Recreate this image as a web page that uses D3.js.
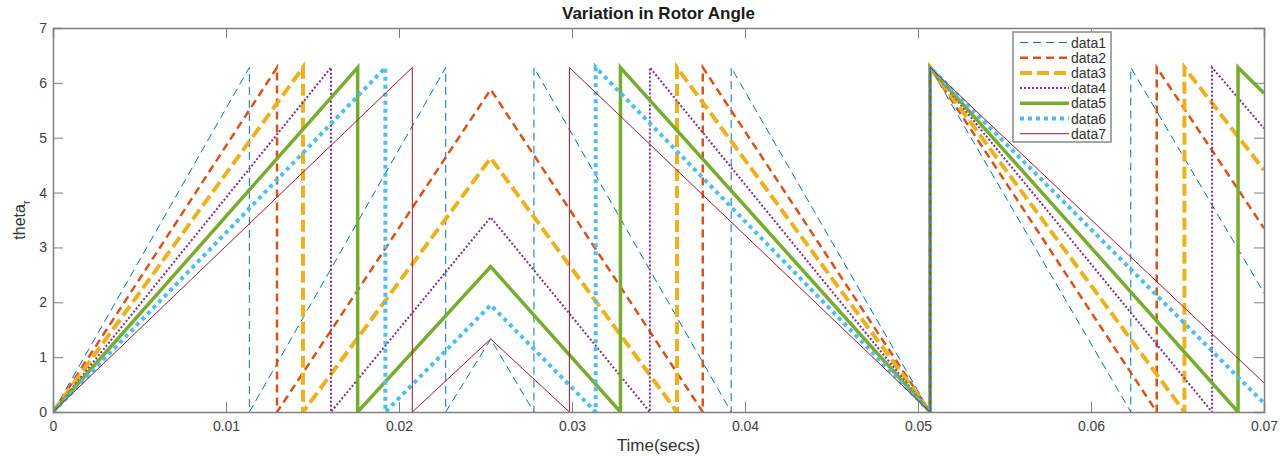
<!DOCTYPE html>
<meta charset="utf-8">
<html>
<head>
<style>
  body { margin: 0; background: #fff; }
  text { font-family: "Liberation Sans", Arial, sans-serif; }
  .tick-label { fill: #404040; font-size: 14px; }
</style>
<script src="https://d3js.org/d3.v7.min.js"></script>
</head>
<body>
<div id="chart"></div>
<script>
// vertices: [time, angle]; jumps are two points at the same time
var data1T = [0, 0.01135, 0.01135, 0.0227, 0.0227, 0.0253, 0.0278, 0.0278, 0.0392, 0.0392, 0.0507, 0.0507, 0.0623, 0.0623, 0.07];
var data1V = [0, 6.28, 0, 6.28, 0, 1.33, 0, 6.28, 0, 6.28, 0, 6.28, 0, 6.28, 2.17];
var data2T = [0, 0.01295, 0.01295, 0.0253, 0.03756, 0.03756, 0.0507, 0.0507, 0.0638, 0.0638, 0.07];
var data2V = [0, 6.28, 0, 5.88, 0, 6.28, 0, 6.28, 0, 6.28, 3.35];
var data3T = [0, 0.01445, 0.01445, 0.0253, 0.03607, 0.03607, 0.0507, 0.0507, 0.0654, 0.0654, 0.07];
var data3V = [0, 6.28, 0, 4.63, 0, 6.28, 0, 6.28, 0, 6.28, 4.41];
var data4T = [0, 0.01607, 0.01607, 0.0253, 0.0345, 0.0345, 0.0507, 0.0507, 0.0670, 0.0670, 0.07];
var data4V = [0, 6.28, 0, 3.55, 0, 6.28, 0, 6.28, 0, 6.28, 5.17];
var data5T = [0, 0.01761, 0.01761, 0.0253, 0.0328, 0.0328, 0.0507, 0.0507, 0.0685, 0.0685, 0.07];
var data5V = [0, 6.28, 0, 2.65, 0, 6.28, 0, 6.28, 0, 6.28, 5.81];
var data6T = [0, 0.01921, 0.01921, 0.0253, 0.03137, 0.03137, 0.0507, 0.0507, 0.07];
var data6V = [0, 6.28, 0, 1.95, 0, 6.28, 0, 6.28, 0.16];
var data7T = [0, 0.02077, 0.02077, 0.0253, 0.02985, 0.02985, 0.0507, 0.0507, 0.07];
var data7V = [0, 6.28, 0, 1.33, 0, 6.28, 0, 6.28, 0.53];

var seriesNames = ["data1", "data2", "data3", "data4", "data5", "data6", "data7"];
var xTicks = [0, 0.01, 0.02, 0.03, 0.04, 0.05, 0.06, 0.07];
var yTicks = [0, 1, 2, 3, 4, 5, 6, 7];

var series = [
  {name: "data1", t: data1T, v: data1V, color: "#0072BD", width: 1, dash: "8,5"},
  {name: "data2", t: data2T, v: data2V, color: "#D95319", width: 2.5, dash: "8,5"},
  {name: "data3", t: data3T, v: data3V, color: "#EDB120", width: 4, dash: "12,5"},
  {name: "data4", t: data4T, v: data4V, color: "#7E2F8E", width: 2, dash: "2,2"},
  {name: "data5", t: data5T, v: data5V, color: "#77AC30", width: 3.5, dash: null},
  {name: "data6", t: data6T, v: data6V, color: "#4DBEEE", width: 4, dash: "4,4"},
  {name: "data7", t: data7T, v: data7V, color: "#A2142F", width: 1, dash: null}
];

var W = 1286, H = 457;
var margin = {top: 28, right: 22, bottom: 45, left: 53};
var width = W - margin.left - margin.right,
    height = H - margin.top - margin.bottom;

var svg = d3.select("#chart").append("svg")
  .attr("width", W).attr("height", H);

var g = svg.append("g")
  .attr("transform", "translate(" + margin.left + "," + margin.top + ")");

var x = d3.scaleLinear().domain([0, 0.07]).range([0, width]);
var y = d3.scaleLinear().domain([0, 7]).range([height, 0]);

g.append("clipPath").attr("id", "clip")
  .append("rect").attr("width", width).attr("height", height);

var line = d3.line()
  .x(function(d) { return x(d[0]); })
  .y(function(d) { return y(d[1]); });

var plot = g.append("g").attr("clip-path", "url(#clip)");
series.forEach(function(s) {
  var pts = s.t.map(function(t, i) { return [t, s.v[i]]; });
  plot.append("path")
    .datum(pts)
    .attr("d", line)
    .attr("fill", "none")
    .attr("stroke", s.color)
    .attr("stroke-width", s.width)
    .attr("stroke-dasharray", s.dash)
    .attr("stroke-linejoin", "miter");
});

// axes box with inward ticks (matlab style)
var axisColor = "#808080";
var tickLen = 10;
var fmt = function(d) { return d === 0 ? "0" : d3.format(".2f")(d); };

var xb = g.append("g").attr("transform", "translate(0," + height + ")")
  .call(d3.axisBottom(x).tickValues(xTicks).tickSize(-tickLen).tickPadding(9).tickFormat(fmt));
var xt = g.append("g")
  .call(d3.axisTop(x).tickValues(xTicks).tickSize(-tickLen).tickFormat(""));
var yl = g.append("g")
  .call(d3.axisLeft(y).tickValues(yTicks).tickSize(-tickLen).tickFormat(d3.format("d")));
var yr = g.append("g").attr("transform", "translate(" + width + ",0)")
  .call(d3.axisRight(y).tickValues(yTicks).tickSize(-tickLen).tickFormat(""));

[xb, xt, yl, yr].forEach(function(a) {
  a.select(".domain").attr("stroke", axisColor).attr("stroke-width", 1.5);
  a.selectAll(".tick line").attr("stroke", axisColor).attr("stroke-width", 1);
  a.selectAll(".tick text").attr("class", "tick-label").attr("font-size", null).attr("font-family", null);
});
yl.selectAll(".tick text").attr("x", -6);

// title and labels
svg.append("text")
  .attr("x", margin.left + width / 2).attr("y", 19)
  .attr("text-anchor", "middle")
  .style("font-size", "17px").style("font-weight", "bold")
  .attr("fill", "#1a1a1a")
  .text("Variation in Rotor Angle");

svg.append("text")
  .attr("x", margin.left + width / 2).attr("y", 451)
  .attr("text-anchor", "middle")
  .style("font-size", "17px")
  .attr("fill", "#333")
  .text("Time(secs)");

var ylab = svg.append("text")
  .attr("transform", "translate(25," + (margin.top + height / 2) + ") rotate(-90)")
  .attr("text-anchor", "middle")
  .style("font-size", "16px")
  .attr("fill", "#333");
ylab.append("tspan").text("theta");
ylab.append("tspan").attr("dy", 5).style("font-size", "11px").text("r");

// legend
var legend = svg.append("g").attr("transform", "translate(1013,32)");
legend.append("rect")
  .attr("width", 98).attr("height", 110)
  .attr("fill", "#fff")
  .attr("stroke", "#888").attr("stroke-width", 1.5);
series.forEach(function(s, i) {
  var row = legend.append("g").attr("transform", "translate(0," + (10.5 + i * 15.2) + ")");
  row.append("line")
    .attr("x1", 7).attr("x2", 56).attr("y1", 0).attr("y2", 0)
    .attr("stroke", s.color)
    .attr("stroke-width", s.width)
    .attr("stroke-dasharray", s.dash);
  row.append("text")
    .attr("x", 58).attr("y", 5)
    .style("font-size", "14px")
    .attr("fill", "#333")
    .text(seriesNames[i]);
});
</script>
</body>
</html>
